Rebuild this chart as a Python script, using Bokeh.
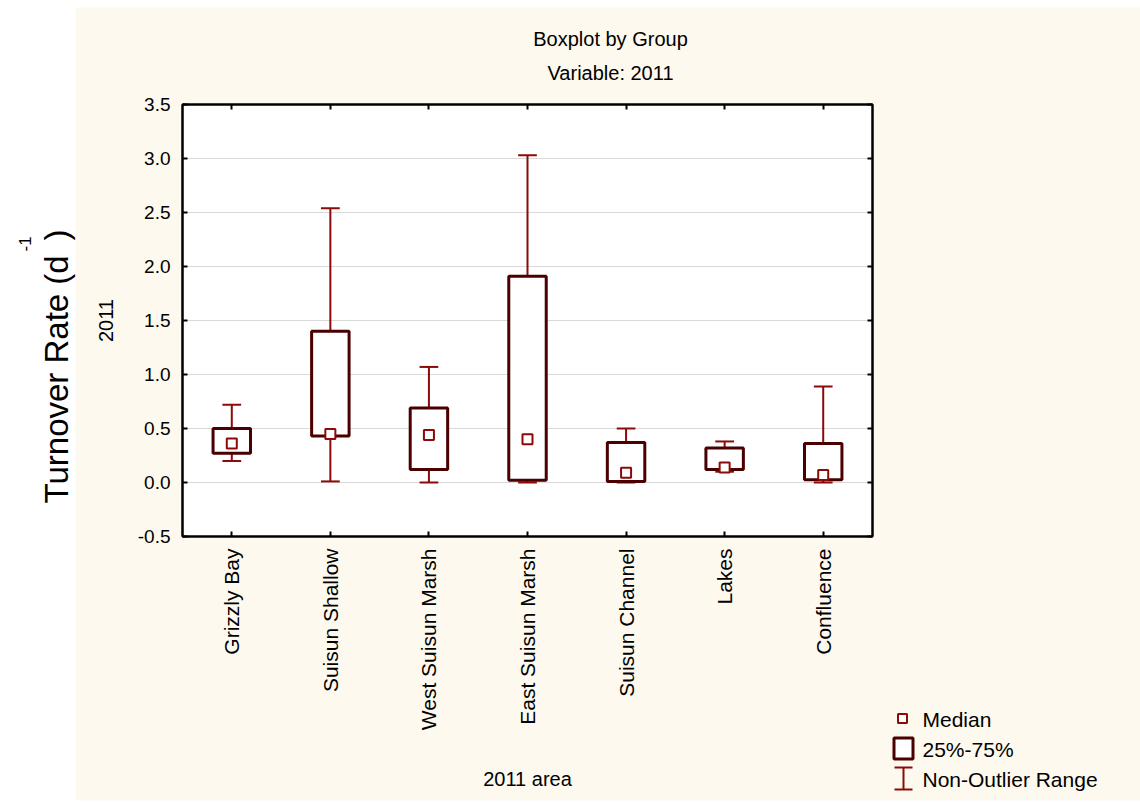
import numpy as np
from bokeh.plotting import figure
from bokeh.models import (ColumnDataSource, Range1d, FactorRange, LinearAxis, CategoricalAxis,
                          FixedTicker, PrintfTickFormatter, CustomJSTickFormatter)
from bokeh.core.properties import value
from bokeh.transform import dodge
from bokeh.embed import file_html
from bokeh.resources import INLINE

# ---------------- data ----------------
areas = ["Grizzly Bay", "Suisun Shallow", "West Suisun Marsh", "East Suisun Marsh",
         "Suisun Channel", "Lakes", "Confluence"]
median = [0.36, 0.45, 0.44, 0.40, 0.09, 0.14, 0.07]
q1 = [0.27, 0.43, 0.12, 0.02, 0.01, 0.12, 0.025]
q3 = [0.50, 1.40, 0.69, 1.91, 0.37, 0.32, 0.36]
low = [0.20, 0.01, 0.00, 0.00, 0.00, 0.10, 0.00]
high = [0.72, 2.54, 1.07, 3.03, 0.50, 0.38, 0.89]
y_ticks = [-0.5, 0.0, 0.5, 1.0, 1.5, 2.0, 2.5, 3.0, 3.5]
legend_labels = ["Median", "25%-75%", "Non-Outlier Range"]

# ---------------- style ----------------
CREAM = "#fdf9ee"
BOX = "#4a0000"
WHISK = "#8b0a0a"
MED = "#8b0a0a"
FONT = "Liberation Sans"

W, H = 1140, 802
FL, FR, FT, FB = 182, 872, 104, 536          # frame edges on the page
YMIN, YMAX = -0.5, 3.5
NCAT = len(areas)


def X(px):
    """page pixel -> synthetic categorical x"""
    return (px - FL) / ((FR - FL) / NCAT)


def Y(py):
    """page pixel -> data y"""
    return YMAX - (py - FT) / ((FB - FT) / (YMAX - YMIN))


src = ColumnDataSource(dict(area=areas, median=median, q1=q1, q3=q3, low=low, high=high))

p = figure(x_range=FactorRange(*areas, range_padding=0), y_range=Range1d(YMIN, YMAX),
           width=W, height=H, output_backend="svg", toolbar_location=None, title=None,
           min_border_left=FL, min_border_right=W - FR, min_border_top=FT,
           min_border_bottom=H - FB,
           background_fill_color="white", border_fill_color=CREAM)
p.outline_line_color = "black"
p.outline_line_width = 2

ticker = FixedTicker(ticks=y_ticks)
p.yaxis.ticker = ticker
p.yaxis.formatter = PrintfTickFormatter(format="%.1f")
p.xgrid.visible = False
p.ygrid.grid_line_color = "#d9d9d9"
p.ygrid.grid_line_width = 1

for ax in (p.xaxis[0], p.yaxis[0]):
    ax.axis_line_color = "black"
    ax.axis_line_width = 2
    ax.major_tick_in = 5
    ax.major_tick_out = 0
    ax.major_tick_line_color = "black"
    ax.major_tick_line_width = 2
    ax.minor_tick_line_color = None
    ax.major_label_text_font = FONT
    ax.major_label_text_color = "black"
    ax.axis_label_text_font = FONT
    ax.axis_label_text_font_style = "normal"
    ax.axis_label_text_font_size = "20px"
    ax.axis_label_text_color = "black"
    ax.major_label_standoff = 12

p.yaxis.major_label_text_font_size = "19px"
p.yaxis.axis_label = "2011"
p.yaxis.axis_label_standoff = 22
p.xaxis.major_label_text_font_size = "21px"
p.xaxis.major_label_orientation = np.pi / 2
p.xaxis.axis_label = "2011 area"
p.xaxis.axis_label_standoff = 35

# mirror axes (ticks only) on top and right
top_ax = CategoricalAxis(major_label_text_color=None, major_tick_in=5, major_tick_out=0,
                         major_tick_line_width=2, axis_line_width=2,
                         minor_tick_line_color=None, major_label_standoff=0)
right_ax = LinearAxis(ticker=ticker, formatter=CustomJSTickFormatter(code="return ''"),
                      major_tick_in=5, major_tick_out=0, major_tick_line_width=2,
                      axis_line_width=2, minor_tick_line_color=None, major_label_standoff=0)
p.add_layout(top_ax, "above")
p.add_layout(right_ax, "right")

# whiskers
p.segment(x0="area", y0="low", x1="area", y1="high", source=src, line_color=WHISK, line_width=2)
for col in ("high", "low"):
    p.segment(x0=dodge("area", -0.095, range=p.x_range), y0=col,
              x1=dodge("area", 0.095, range=p.x_range), y1=col,
              source=src, line_color=WHISK, line_width=2)
# boxes
p.vbar(x="area", bottom="q1", top="q3", width=0.38, source=src,
       fill_color="white", line_color=BOX, line_width=3)
# medians
p.scatter(x="area", y="median", marker="square", size=10, source=src,
          fill_color="white", line_color=MED, line_width=2)

# ---------------- decorations outside the frame (overlay level, not clipped) ----------------
# white margins of the page
p.quad(left=[X(0), X(0), X(0)], right=[X(75), X(W), X(W)],
       top=[Y(0), Y(0), Y(800)], bottom=[Y(H), Y(7), Y(H)], fill_color="white",
       line_color=None, level="overlay")

txt = dict(text_font=value(FONT), text_color="black", level="overlay")
# titles
p.text(x=[X(610), X(610)], y=[Y(38), Y(72)], text=["Boxplot by Group", "Variable: 2011"],
       text_align="center", text_baseline="middle", text_font_size=value("20px"), **txt)
# big left label
p.text(x=[X(56)], y=[Y(503)], text=["Turnover Rate (d"], angle=np.pi / 2,
       text_align="left", text_baseline="alphabetic", text_font_size=value("33px"), **txt)
p.text(x=[X(25)], y=[Y(251)], text=["-1"], angle=np.pi / 2,
       text_align="left", text_baseline="alphabetic", text_font_size=value("17px"), **txt)
p.text(x=[X(56)], y=[Y(240)], text=[")"], angle=np.pi / 2,
       text_align="left", text_baseline="alphabetic", text_font_size=value("33px"), **txt)

# legend
p.rect(x=[X(902)], y=[Y(718)], width=9, height=9, width_units="screen",
       height_units="screen", fill_color="white", line_color=MED, line_width=2, level="overlay")
p.rect(x=[X(903)], y=[Y(748)], width=19, height=21, width_units="screen",
       height_units="screen", fill_color="white", line_color=BOX, line_width=3, level="overlay")
p.segment(x0=[X(903), X(894), X(894)], y0=[Y(767), Y(767), Y(789)],
          x1=[X(903), X(912), X(912)], y1=[Y(789), Y(767), Y(789)],
          line_color=WHISK, line_width=2, level="overlay")
p.text(x=[X(922)] * 3, y=[Y(719), Y(749), Y(779)], text=legend_labels,
       text_align="left", text_baseline="middle", text_font_size=value("21px"), **txt)

open("out.html", "w").write(file_html(p, INLINE))
